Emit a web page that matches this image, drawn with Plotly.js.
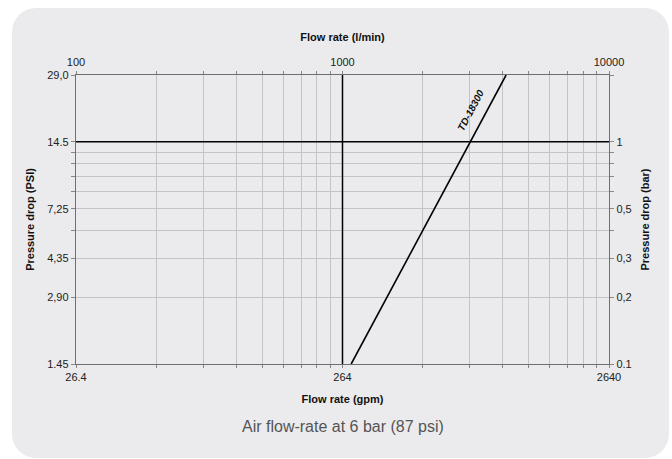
<!DOCTYPE html>
<html>
<head>
<meta charset="utf-8">
<script src="https://cdn.plot.ly/plotly-3.0.1.min.js"></script>
<style>
  html, body { margin: 0; padding: 0; background: #ffffff; }
  #wrap { position: relative; width: 672px; height: 459px; overflow: hidden; }
  #bg { position: absolute; left: 12px; top: 8px; width: 657px; height: 450px;
        background: #ebebed; border-radius: 24px; }
  #chart { position: absolute; left: 0; top: 0; width: 672px; height: 459px; }
</style>
</head>
<body>
<div id="wrap"><div id="bg"></div><div id="chart"></div></div>
<script>
// Series: TD-18300 pressure drop vs. air flow
const seriesName = 'TD-18300';
const flowLmin = [1078, 3015, 4110];   // l/min
const dropBar  = [0.1, 1, 2];          // bar

// Reference lines
const refFlowLmin = [1000, 1000];
const refFlowSpan = [0.1, 2];
const refBar = [1, 1];
const refBarSpan = [100, 10000];

// X ticks (l/min positions) and labels
const xTickVals = [100,200,300,400,500,600,700,800,900,1000,2000,3000,4000,5000,6000,7000,8000,9000,10000];
const xTopText  = ['100','','','','','','','','','1000','','','','','','','','','10000'];
const xBotText  = ['26.4','','','','','','','','','264','','','','','','','','','2640'];

// Y ticks (bar positions) and labels
const yTickVals = [0.1,0.2,0.3,0.4,0.5,0.6,0.7,0.8,0.9,1,2];
const yPsiText  = ['1.45','2,90','4,35','','7,25','','','','','14.5','29,0'];
const yBarText  = ['0.1','0,2','0,3','','0,5','','','','','1',''];

const tickFont = {family: 'Liberation Sans, Arial, sans-serif', size: 11, color: '#222'};
const titleFont = {family: 'Liberation Sans, Arial, sans-serif', size: 11, color: '#111', weight: 'bold'};
const gridC = '#c4c4c4';
const lineC = '#6f6f6f';

const traces = [
  {x: refBarSpan, y: refBar, xaxis: 'x', yaxis: 'y', mode: 'lines',
   line: {color: '#000', width: 1.5}, hoverinfo: 'skip', showlegend: false},
  {x: refFlowLmin, y: refFlowSpan, xaxis: 'x', yaxis: 'y', mode: 'lines',
   line: {color: '#000', width: 1.5}, hoverinfo: 'skip', showlegend: false},
  {x: flowLmin, y: dropBar, xaxis: 'x', yaxis: 'y', mode: 'lines', name: seriesName,
   line: {color: '#000', width: 1.6}, showlegend: false},
  // invisible trace to activate secondary axes
  {x: [100], y: [1], xaxis: 'x2', yaxis: 'y2', mode: 'markers',
   marker: {opacity: 0}, hoverinfo: 'skip', showlegend: false}
];

const xRange = [Math.log10(100), Math.log10(10000)];
const yRange = [Math.log10(0.1), Math.log10(2)];

const layout = {
  width: 672, height: 459,
  paper_bgcolor: 'rgba(0,0,0,0)', plot_bgcolor: 'rgba(0,0,0,0)',
  margin: {l: 76, r: 63, t: 75, b: 95},
  showlegend: false,
  xaxis: {
    type: 'log', range: xRange, side: 'bottom',
    tickmode: 'array', tickvals: xTickVals, ticktext: xBotText,
    ticks: 'outside', ticklen: 3, tickcolor: '#888', tickwidth: 1,
    showgrid: true, gridcolor: gridC, gridwidth: 1,
    showline: true, linecolor: lineC, linewidth: 1.2,
    zeroline: false, tickfont: tickFont,
    title: {text: 'Flow rate (gpm)', font: titleFont, standoff: 12}
  },
  xaxis2: {
    type: 'log', range: xRange, side: 'top', overlaying: 'x', anchor: 'y',
    tickmode: 'array', tickvals: xTickVals, ticktext: xTopText,
    ticks: 'outside', ticklen: 3, tickcolor: '#888', tickwidth: 1,
    showgrid: false, showline: true, linecolor: lineC, linewidth: 1.2,
    zeroline: false, tickfont: tickFont,
    title: {text: 'Flow rate (l/min)', font: titleFont, standoff: 12}
  },
  yaxis: {
    type: 'log', range: yRange, side: 'left',
    tickmode: 'array', tickvals: yTickVals, ticktext: yPsiText,
    ticks: 'outside', ticklen: 4, tickcolor: '#888', tickwidth: 1,
    showgrid: true, gridcolor: gridC, gridwidth: 1,
    showline: true, linecolor: lineC, linewidth: 1.2,
    zeroline: false, tickfont: tickFont,
    title: {text: 'Pressure drop (PSI)', font: titleFont, standoff: 10}
  },
  yaxis2: {
    type: 'log', range: yRange, side: 'right', overlaying: 'y', anchor: 'x',
    tickmode: 'array', tickvals: yTickVals, ticktext: yBarText,
    ticks: 'outside', ticklen: 4, tickcolor: '#888', tickwidth: 1,
    showgrid: false, showline: true, linecolor: lineC, linewidth: 1.2,
    zeroline: false, tickfont: tickFont,
    title: {text: 'Pressure drop (bar)', font: titleFont, standoff: 10}
  },
  annotations: [
    {xref: 'x', yref: 'y', x: Math.log10(3020), y: Math.log10(1.39),
     text: '<i>' + seriesName + '</i>', showarrow: false, textangle: -62,
     font: {family: 'Liberation Sans, Arial, sans-serif', size: 10, color: '#111', weight: 'bold'}},
    {xref: 'paper', yref: 'paper', x: 0.5, y: -0.215, yanchor: 'middle',
     text: 'Air flow-rate at 6 bar (87 psi)', showarrow: false,
     font: {family: 'Liberation Sans, Arial, sans-serif', size: 16, color: '#555'}}
  ]
};

Plotly.newPlot('chart', traces, layout, {displayModeBar: false, staticPlot: true});
</script>
</body>
</html>
